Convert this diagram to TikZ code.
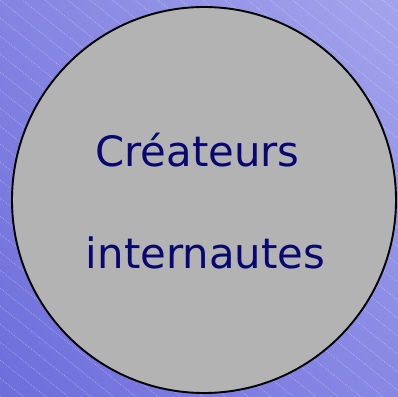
\documentclass[tikz,border=0pt]{standalone}
\usepackage{fontspec}
\setmainfont{DejaVu Sans}
\usetikzlibrary{shadings}
\definecolor{txtnavy}{RGB}{8,8,112}
\definecolor{bgll}{RGB}{110,110,220}
\definecolor{bgul}{RGB}{132,132,226}
\definecolor{bglr}{RGB}{136,136,228}
\definecolor{bgur}{RGB}{164,164,236}
\definecolor{disc}{RGB}{179,179,179}
\tikzset{
  stripe/.style={white, opacity=0.35, line width=0.7pt, dash pattern=on 0.9pt off 1.1pt},
  discstyle/.style={draw=black, line width=1.9pt, fill=disc},
  label/.style={font=\fontsize{41.8}{49}\selectfont, text=txtnavy, anchor=base, inner sep=0pt}
}
\begin{document}
\begin{tikzpicture}[x=1pt,y=1pt]
\useasboundingbox (0,0) rectangle (398,396);
\shade[lower left=bgll, upper left=bgul, lower right=bglr, upper right=bgur] (0,0) rectangle (398,396);
\begin{scope}
\clip (0,0) rectangle (398,396);
\foreach \c in {0,18,...,756} {
  \draw[stripe] (0,\c) -- (450,\c-360);
}
\end{scope}
\draw[discstyle] (204,196) ellipse [x radius=192, y radius=193];
\node[label] (crea) at (197.5,229) {Créateurs};
\node[label] (inter) at (205.5,128) {internautes};
\end{tikzpicture}
\end{document}
